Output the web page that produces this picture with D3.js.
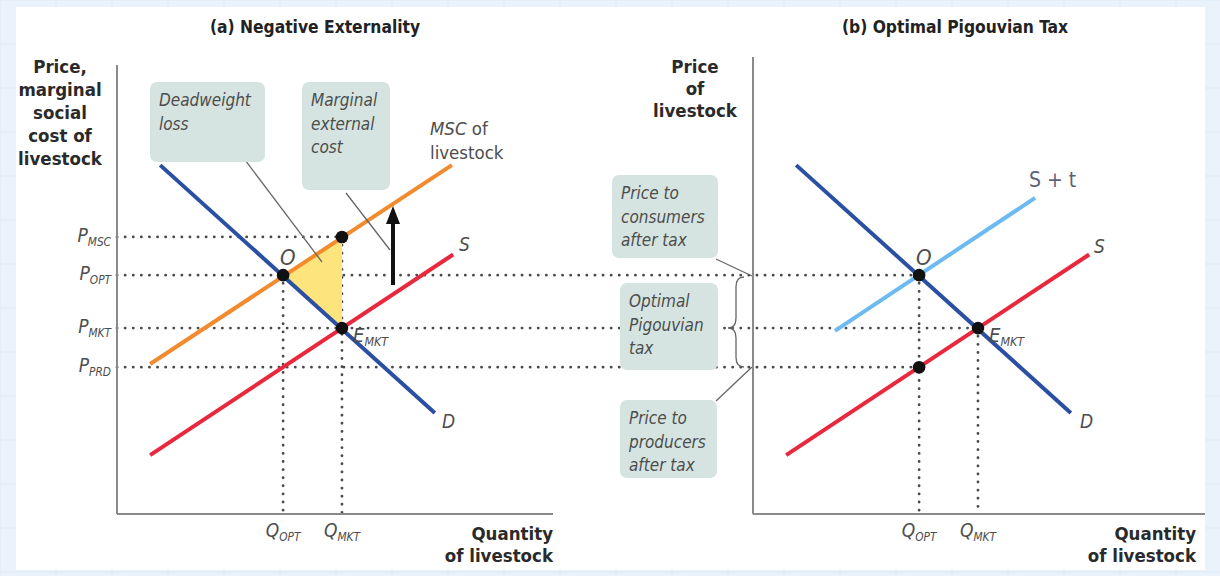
<!DOCTYPE html>
<html lang="en">
<head>
<meta charset="utf-8">
<title>Negative externality and Pigouvian tax</title>
<style>
  body { margin: 0; background: #eaf3fb; }
  svg { display: block; }
  text { font-family: "DejaVu Sans Condensed", "Liberation Sans Narrow", sans-serif; }
  .title { font-weight: bold; font-size: 17.3px; fill: #222; }
  .axlab { font-weight: bold; font-size: 18.5px; fill: #2a2a2a; }
  .lab { font-style: italic; fill: #4d4d4d; }
  .box { fill: #d5e4e0; }
  .boxtxt { font-style: italic; font-size: 17px; fill: #4d4d4d; }
  .dots { stroke: #4a4a4a; stroke-width: 2.8; stroke-dasharray: 0.1 8; stroke-linecap: round; fill: none; }
  .leader { stroke: #666; stroke-width: 1.3; fill: none; }
</style>
</head>
<body>
<div id="chart"></div>
<script src="https://cdn.jsdelivr.net/npm/d3@7"></script>
<script>

var width = 1220, height = 576;

// ---- data (quantity / price units, 0..100) ----
var qNames  = ["OPT", "MKT"];
var qValues = [38.1, 51.6];
var pNames  = ["MSC", "OPT", "MKT", "PRD"];
var pValues = [61.7, 53.2, 41.4, 32.7];

var demand    = [[9.9, 77.7], [72.9, 22.5]];
var msc       = [[7.6, 33.4], [76.8, 77.7]];
var supply    = [[7.6, 13.1], [77.1, 57.8]];
var supplyTax = [[18.8, 40.8], [64.7, 70.4]];

var pointsA = [[38.1, 53.2], [51.6, 61.7], [51.6, 41.4]];
var pointsB = [[38.1, 53.2], [51.6, 41.4], [38.1, 32.7]];
var dwl     = [[38.1, 53.2], [51.6, 61.7], [51.6, 41.4]];

// ---- scales ----
var y  = d3.scaleLinear().domain([0, 100]).range([514, 65]);
var xA = d3.scaleLinear().domain([0, 100]).range([117, 553]);
var xB = d3.scaleLinear().domain([0, 100]).range([753, 1189]);

var svg = d3.select("#chart").append("svg")
    .attr("width", width)
    .attr("height", height);

// background grid + white card
var grid = svg.append("g");
d3.range(0, width, 56).forEach(function(gx){
  grid.append("line").attr("x1", gx).attr("x2", gx).attr("y1", 0).attr("y2", height)
    .attr("stroke", "#dde9f5").attr("stroke-width", 1);
});
d3.range(0, height, 44).forEach(function(gy){
  grid.append("line").attr("y1", gy).attr("y2", gy).attr("x1", 0).attr("x2", width)
    .attr("stroke", "#dde9f5").attr("stroke-width", 1);
});
svg.append("rect").attr("x", 16).attr("y", 7).attr("width", 1189).attr("height", 563).attr("fill", "#fff");

var line = function(xs){ return d3.line().x(function(d){ return xs(d[0]); }).y(function(d){ return y(d[1]); }); };

// ---- dotted guides ----
var dots = svg.append("g");
// P_MSC only inside panel (a)
dots.append("line").attr("class", "dots")
  .attr("x1", xA(0)).attr("x2", xA(qValues[1])).attr("y1", y(pValues[0])).attr("y2", y(pValues[0]));
// the other prices run across to panel (b)
[[1, 0], [2, 1], [3, 0]].forEach(function(d){
  dots.append("line").attr("class", "dots")
    .attr("x1", xA(0)).attr("x2", xB(qValues[d[1]]))
    .attr("y1", y(pValues[d[0]])).attr("y2", y(pValues[d[0]]));
});
// verticals
dots.append("line").attr("class", "dots").attr("x1", xA(qValues[0])).attr("x2", xA(qValues[0])).attr("y1", y(53.2)).attr("y2", y(0));
dots.append("line").attr("class", "dots").attr("x1", xA(qValues[1])).attr("x2", xA(qValues[1])).attr("y1", y(61.7)).attr("y2", y(0));
dots.append("line").attr("class", "dots").attr("x1", xB(qValues[0])).attr("x2", xB(qValues[0])).attr("y1", y(53.2)).attr("y2", y(0));
dots.append("line").attr("class", "dots").attr("x1", xB(qValues[1])).attr("x2", xB(qValues[1])).attr("y1", y(41.4)).attr("y2", y(0));

// deadweight loss triangle
svg.append("path").attr("d", line(xA)(dwl) + "Z").attr("fill", "#fde47c");

// ---- axes ----
var axis = svg.append("g").attr("stroke", "#8a8a8a").attr("stroke-width", 2);
axis.append("line").attr("x1", xA(0)).attr("x2", xA(0)).attr("y1", 65).attr("y2", y(0));
axis.append("line").attr("x1", xA(0)).attr("x2", xA(100)).attr("y1", y(0)).attr("y2", y(0));
axis.append("line").attr("x1", xB(0)).attr("x2", xB(0)).attr("y1", 57).attr("y2", y(0));
axis.append("line").attr("x1", xB(0)).attr("x2", 1205).attr("y1", y(0)).attr("y2", y(0));

// ---- curves ----
function curve(xs, data, color){
  svg.append("path").attr("d", line(xs)(data))
    .attr("stroke", color).attr("stroke-width", 4).attr("fill", "none");
}
curve(xA, msc, "#f28a2e");
curve(xA, demand, "#2b4fa3");
curve(xA, supply, "#e8283c");
curve(xB, supplyTax, "#6cbaf2");
curve(xB, demand, "#2b4fa3");
curve(xB, supply, "#e8283c");

// arrow for marginal external cost
svg.append("line").attr("x1", 393).attr("x2", 393).attr("y1", 285).attr("y2", 222)
  .attr("stroke", "#111").attr("stroke-width", 4);
svg.append("path").attr("d", "M393,206 L386,224 L400,224 Z").attr("fill", "#111");

// points
function pts(xs, data){
  svg.append("g").selectAll("circle").data(data).enter().append("circle")
    .attr("cx", function(d){ return xs(d[0]); })
    .attr("cy", function(d){ return y(d[1]); })
    .attr("r", 6.3).attr("fill", "#111");
}
pts(xA, pointsA);
pts(xB, pointsB);

// ---- titles & axis labels ----
svg.append("text").attr("class", "title").attr("x", 315).attr("y", 33).attr("text-anchor", "middle").text("(a) Negative Externality");
svg.append("text").attr("class", "title").attr("x", 955).attr("y", 33).attr("text-anchor", "middle").text("(b) Optimal Pigouvian Tax");

function multi(x, y0, lines, cls, anchor, dy){
  var t = svg.append("text").attr("class", cls).attr("text-anchor", anchor);
  lines.forEach(function(s, i){
    t.append("tspan").attr("x", x).attr("y", y0 + i * dy).text(s);
  });
  return t;
}
multi(60, 73, ["Price,", "marginal", "social", "cost of", "livestock"], "axlab", "middle", 23);
multi(695, 73, ["Price", "of", "livestock"], "axlab", "middle", 22);
multi(553, 540, ["Quantity", "of livestock"], "axlab", "end", 22);
multi(1196, 540, ["Quantity", "of livestock"], "axlab", "end", 22);

// subscripted labels
function sub(x, yy, main, s, anchor, size){
  var t = svg.append("text").attr("class", "lab").attr("x", x).attr("y", yy)
    .attr("text-anchor", anchor).style("font-size", size + "px");
  t.append("tspan").text(main);
  t.append("tspan").attr("dy", 4).style("font-size", (size * 0.62) + "px").text(s);
  return t;
}
pNames.forEach(function(n, i){ sub(111, y(pValues[i]) + 5, "P", n, "end", 19); });
qNames.forEach(function(n, i){
  sub(xA(qValues[i]), 537, "Q", n, "middle", 19);
  sub(xB(qValues[i]), 537, "Q", n, "middle", 19);
});
sub(353, 342, "E", "MKT", "start", 20);
sub(989, 342, "E", "MKT", "start", 20);

function lab(x, yy, s, size){
  return svg.append("text").attr("class", "lab").attr("x", x).attr("y", yy).style("font-size", size + "px").text(s);
}
lab(280, 265, "O", 22);
lab(916, 265, "O", 22);
lab(442, 428, "D", 19);
lab(1080, 428, "D", 19);
lab(459, 251, "S", 19);
lab(1094, 253, "S", 19);
svg.append("text").attr("x", 1029).attr("y", 187).style("font-size", "21px").style("font-weight", "300")
  .attr("fill", "#5a6378").text("S + t");
var m = svg.append("text").attr("class", "lab").attr("x", 430).attr("y", 135).style("font-size", "18.5px");
m.append("tspan").text("MSC");
m.append("tspan").style("font-style", "normal").text(" of");
svg.append("text").attr("x", 430).attr("y", 159).style("font-size", "18.5px").attr("fill", "#4d4d4d").text("livestock");

// ---- callout boxes ----
var leaders = [
  [[230, 140], [322, 262]],
  [[346, 193], [390, 250]],
  [[716, 259], [752, 276]],
  [[716, 401], [752, 367]]
];
leaders.forEach(function(l){
  svg.append("path").attr("class", "leader").attr("d", "M" + l[0] + "L" + l[1]);
});
svg.append("path").attr("class", "leader").attr("stroke-width", 1.6)
  .attr("d", "M744,277 Q736,277 736,287 L736,318 Q736,328 728,328 Q736,328 736,338 L736,357 Q736,367 744,367");

var boxes = [
  {x: 150, y: 82,  w: 115, h: 80,  lines: ["Deadweight", "loss"]},
  {x: 302, y: 82,  w: 88,  h: 108, lines: ["Marginal", "external", "cost"]},
  {x: 612, y: 175, w: 106, h: 83,  lines: ["Price to", "consumers", "after tax"]},
  {x: 620, y: 283, w: 98,  h: 87,  lines: ["Optimal", "Pigouvian", "tax"]},
  {x: 620, y: 400, w: 97,  h: 78,  lines: ["Price to", "producers", "after tax"]}
];
boxes.forEach(function(b){
  svg.append("rect").attr("class", "box").attr("x", b.x).attr("y", b.y)
    .attr("width", b.w).attr("height", b.h).attr("rx", 7);
  multi(b.x + 9, b.y + 24, b.lines, "boxtxt", "start", 23.5);
});

</script>
</body>
</html>
